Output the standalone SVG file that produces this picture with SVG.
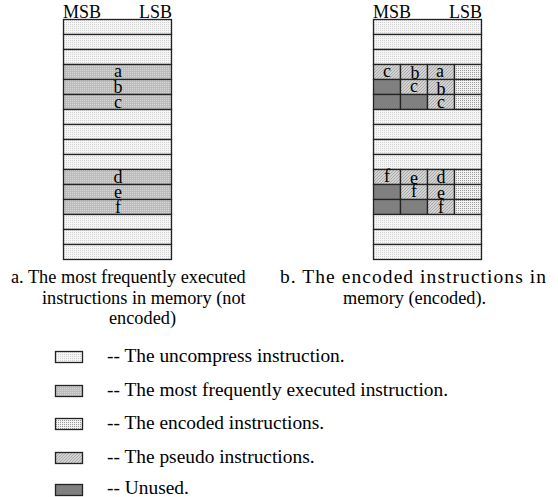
<svg xmlns="http://www.w3.org/2000/svg" width="558" height="497" viewBox="0 0 558 497">
<defs>
<pattern id="pU" width="2" height="2" patternUnits="userSpaceOnUse"><rect width="2" height="2" fill="#f6f6f6"/><rect width="1" height="1" fill="#d2d2d2"/></pattern>
<pattern id="pM" width="2" height="2" patternUnits="userSpaceOnUse"><rect width="2" height="2" fill="#bcbcbc"/><rect width="1" height="1" fill="#d8d8d8"/></pattern>
<pattern id="pE" width="2" height="2" patternUnits="userSpaceOnUse"><rect width="2" height="2" fill="#f2f2f2"/><rect width="1" height="1" fill="#9a9a9a"/></pattern>
<pattern id="pP" width="3" height="3" patternUnits="userSpaceOnUse"><rect width="3" height="3" fill="#d4d4d4"/><path d="M0 3L3 0" stroke="#a8a8a8" stroke-width="1"/></pattern>
</defs>
<style>
.u{fill:url(#pU)}
.m{fill:url(#pM)}
.e{fill:url(#pE)}
.p{fill:url(#pP)}
.x{fill:#808080}
.cell{stroke:#222;stroke-width:1.3}
.h{font-size:18px}
.l{font-size:18px;text-anchor:middle}
.c{font-size:18.3px}
.g{font-size:19.4px}
</style>
<g font-family="'Liberation Serif', 'DejaVu Serif', serif" fill="#000">
<g id="colA">
<text class="h" x="63" y="18">MSB</text>
<text class="h" x="172" y="18" text-anchor="end">LSB</text>
<g class="cell">
<rect class="u" x="63.5" y="19.5" width="108" height="15"/>
<rect class="u" x="63.5" y="34.5" width="108" height="15"/>
<rect class="u" x="63.5" y="49.5" width="108" height="15"/>
<rect class="m" x="63.5" y="64.5" width="108" height="15"/>
<rect class="m" x="63.5" y="79.5" width="108" height="15"/>
<rect class="m" x="63.5" y="94.5" width="108" height="15"/>
<rect class="u" x="63.5" y="109.5" width="108" height="15"/>
<rect class="u" x="63.5" y="124.5" width="108" height="15"/>
<rect class="u" x="63.5" y="139.5" width="108" height="15"/>
<rect class="u" x="63.5" y="154.5" width="108" height="15"/>
<rect class="m" x="63.5" y="169.5" width="108" height="15"/>
<rect class="m" x="63.5" y="184.5" width="108" height="15"/>
<rect class="m" x="63.5" y="199.5" width="108" height="15"/>
<rect class="u" x="63.5" y="214.5" width="108" height="15"/>
<rect class="u" x="63.5" y="229.5" width="108" height="15"/>
<rect class="u" x="63.5" y="244.5" width="108" height="15"/>
</g>
<text class="l" x="118" y="77">a</text>
<text class="l" x="118" y="93">b</text>
<text class="l" x="118" y="108">c</text>
<text class="l" x="118" y="183">d</text>
<text class="l" x="118" y="198">e</text>
<text class="l" x="118" y="213">f</text>
</g>
<g id="colB">
<text class="h" x="373" y="18">MSB</text>
<text class="h" x="482" y="18" text-anchor="end">LSB</text>
<g class="cell">
<rect class="u" x="373.5" y="19.5" width="108" height="15"/>
<rect class="u" x="373.5" y="34.5" width="108" height="15"/>
<rect class="u" x="373.5" y="49.5" width="108" height="15"/>
<rect class="p" x="373.5" y="64.5" width="27" height="15"/>
<rect class="p" x="400.5" y="64.5" width="27" height="15"/>
<rect class="p" x="427.5" y="64.5" width="27" height="15"/>
<rect class="e" x="454.5" y="64.5" width="27" height="15"/>
<rect class="x" x="373.5" y="79.5" width="27" height="15"/>
<rect class="p" x="400.5" y="79.5" width="27" height="15"/>
<rect class="p" x="427.5" y="79.5" width="27" height="15"/>
<rect class="e" x="454.5" y="79.5" width="27" height="15"/>
<rect class="x" x="373.5" y="94.5" width="27" height="15"/>
<rect class="x" x="400.5" y="94.5" width="27" height="15"/>
<rect class="p" x="427.5" y="94.5" width="27" height="15"/>
<rect class="e" x="454.5" y="94.5" width="27" height="15"/>
<rect class="u" x="373.5" y="109.5" width="108" height="15"/>
<rect class="u" x="373.5" y="124.5" width="108" height="15"/>
<rect class="u" x="373.5" y="139.5" width="108" height="15"/>
<rect class="u" x="373.5" y="154.5" width="108" height="15"/>
<rect class="p" x="373.5" y="169.5" width="27" height="15"/>
<rect class="p" x="400.5" y="169.5" width="27" height="15"/>
<rect class="p" x="427.5" y="169.5" width="27" height="15"/>
<rect class="e" x="454.5" y="169.5" width="27" height="15"/>
<rect class="x" x="373.5" y="184.5" width="27" height="15"/>
<rect class="p" x="400.5" y="184.5" width="27" height="15"/>
<rect class="p" x="427.5" y="184.5" width="27" height="15"/>
<rect class="e" x="454.5" y="184.5" width="27" height="15"/>
<rect class="x" x="373.5" y="199.5" width="27" height="15"/>
<rect class="x" x="400.5" y="199.5" width="27" height="15"/>
<rect class="p" x="427.5" y="199.5" width="27" height="15"/>
<rect class="e" x="454.5" y="199.5" width="27" height="15"/>
<rect class="u" x="373.5" y="214.5" width="108" height="15"/>
<rect class="u" x="373.5" y="229.5" width="108" height="15"/>
<rect class="u" x="373.5" y="244.5" width="108" height="15"/>
</g>
<text class="l" x="387" y="77">c</text>
<text class="l" x="415" y="79">b</text>
<text class="l" x="440" y="77">a</text>
<text class="l" x="414" y="92">c</text>
<text class="l" x="441" y="95">b</text>
<text class="l" x="441" y="108">c</text>
<text class="l" x="387" y="182">f</text>
<text class="l" x="414" y="184">e</text>
<text class="l" x="441" y="183">d</text>
<text class="l" x="414" y="197">f</text>
<text class="l" x="441" y="199">e</text>
<text class="l" x="441" y="213">f</text>
</g>
<g id="captions">
<text class="c" x="11" y="283">a. The most frequently executed</text>
<text class="c" x="42" y="304">instructions in memory (not</text>
<text class="c" x="109" y="324">encoded)</text>
<text x="280" y="283" font-size="19.5" textLength="266" lengthAdjust="spacing">b. The encoded instructions in</text>
<text class="c" x="343" y="304">memory (encoded).</text>
</g>
<g id="legend" class="cell">
<rect class="u" x="55.5" y="351.5" width="27" height="11"/>
<rect class="m" x="55.5" y="385.5" width="27" height="11"/>
<rect class="e" x="55.5" y="418.5" width="27" height="11"/>
<rect class="p" x="55.5" y="452.5" width="27" height="11"/>
<rect class="x" x="55.5" y="484.5" width="27" height="11"/>
</g>
<g id="legendText">
<text class="g" x="107" y="362">-- The uncompress instruction.</text>
<text class="g" x="107" y="396">-- The most frequently executed instruction.</text>
<text class="g" x="107" y="429">-- The encoded instructions.</text>
<text class="g" x="107" y="463">-- The pseudo instructions.</text>
<text class="g" x="107" y="494">-- Unused.</text>
</g>
</g>
</svg>
